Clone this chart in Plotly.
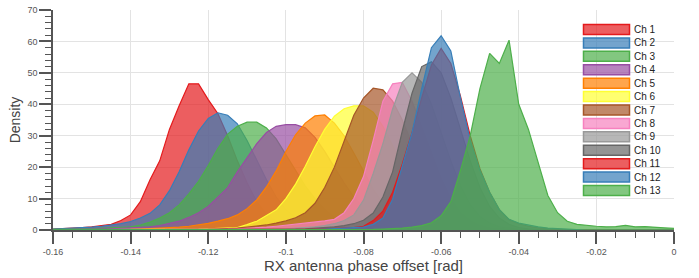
import plotly.graph_objects as go

# Bin centres (rad)
X_BINS = [-0.16, -0.1575, -0.155, -0.1525, -0.15, -0.1475, -0.145, -0.1425, -0.14, -0.1375,
          -0.135, -0.1325, -0.13, -0.1275, -0.125, -0.1225, -0.12, -0.1175, -0.115, -0.1125,
          -0.11, -0.1075, -0.105, -0.1025, -0.1, -0.0975, -0.095, -0.0925, -0.09, -0.0875,
          -0.085, -0.0825, -0.08, -0.0775, -0.075, -0.0725, -0.07, -0.0675, -0.065, -0.0625,
          -0.06, -0.0575, -0.055, -0.0525, -0.05, -0.0475, -0.045, -0.0425, -0.04, -0.0375,
          -0.035, -0.0325, -0.03, -0.0275, -0.025, -0.0225, -0.02, -0.0175, -0.015, -0.0125,
          -0.01, -0.0075, -0.005, -0.0025, 0.0]

CHANNELS = ["Ch 1", "Ch 2", "Ch 3", "Ch 4", "Ch 5", "Ch 6", "Ch 7",
            "Ch 8", "Ch 9", "Ch 10", "Ch 11", "Ch 12", "Ch 13"]

CH1 = [0.3, 0.4, 0.5, 0.8, 1.0, 1.3, 1.8, 3.0, 4.8, 9, 16, 22, 32, 39.5, 46.5, 46.5, 41.5, 37,
       30, 22, 15, 9, 5, 2.8, 1.4, 0.7, 0.35, 0.15, 0.05] + [0] * 36
CH2 = [0.3, 0.4, 0.5, 0.7, 0.9, 1.2, 1.5, 2.0, 2.7, 3.8, 5.3, 8, 12.5, 18.5, 25.5, 31.5, 35.5,
       37.3, 36.5, 33.8, 28.5, 22, 16, 10.5, 6.5, 3.8, 2, 1.1, 0.6, 0.3, 0.15, 0.05] + [0] * 33
CH3 = [0.2, 0.2, 0.3, 0.3, 0.4, 0.5, 0.6, 0.8, 1.0, 1.6, 2.5, 3.8, 5.5, 8, 11.5, 15.5, 20.5,
       26, 30.5, 33, 34.3, 34.3, 32.5, 29, 24, 19, 14, 10, 6.5, 4, 2.5, 1.5, 0.8, 0.4, 0.2,
       0.1] + [0] * 29
CH4 = [0.1, 0.1, 0.15, 0.2, 0.25, 0.3, 0.4, 0.5, 0.6, 0.8, 1.0, 1.4, 2.0, 2.8, 4.0, 5.5, 7.5,
       10.5, 13.5, 18.5, 23, 27.5, 31, 33, 33.5, 33.5, 32.5, 29.5, 25, 20, 15, 10.5, 7, 4.5,
       2.7, 1.5, 0.8, 0.4, 0.2, 0.1] + [0] * 25
CH5 = [0.05, 0.05, 0.05, 0.1, 0.1, 0.1, 0.15, 0.15, 0.2, 0.3, 0.4, 0.5, 0.7, 0.9, 1.2, 1.6,
       2.1, 2.8, 3.6, 4.8, 6.8, 9.6, 13.7, 18.8, 25, 30.3, 34, 36.3, 36.6, 34, 30, 24.5, 18.5,
       13, 8.5, 5, 2.8, 1.5, 0.8, 0.4, 0.2, 0.1] + [0] * 23
CH6 = [0.05, 0.05, 0.05, 0.05, 0.05, 0.1, 0.1, 0.1, 0.1, 0.1, 0.1, 0.1, 0.1, 0.15, 0.2, 0.25,
       0.35, 0.45, 0.6, 0.8, 1.7, 2.8, 4.6, 6.4, 10, 14.6, 20.3, 26.5, 32, 36.2, 38.6, 39.5,
       39.5, 37.5, 33, 27, 20.5, 14.5, 9.5, 6, 3.5, 2, 1, 0.5, 0.25, 0.1] + [0] * 19
CH7 = [0.05, 0.05, 0.05, 0.05, 0.05, 0.05, 0.05, 0.05, 0.05, 0.05, 0.05, 0.05, 0.05, 0.05,
       0.1, 0.15, 0.2, 0.3, 0.4, 0.6, 0.9, 1.2, 1.6, 2.2, 2.9, 3.9, 5.5, 8.5, 13.5, 20, 28,
       36.5, 42, 45.1, 44.6, 41, 35, 27.5, 20, 13.5, 8.5, 5, 2.8, 1.5, 0.8, 0.4, 0.2,
       0.1] + [0] * 17
CH8 = [0.05, 0.05, 0.05, 0.05, 0.05, 0.05, 0.05, 0.05, 0.05, 0.05, 0.05, 0.05, 0.1, 0.1, 0.1,
       0.1, 0.1, 0.2, 0.25, 0.35, 0.5, 0.7, 0.9, 1.2, 1.5, 1.8, 2.1, 2.5, 2.9, 3.4, 5.5, 10,
       17, 28.5, 41, 46.5, 47, 41, 33, 24.5, 16.5, 10, 5.5, 3, 1.5, 0.7, 0.3, 0.1] + [0] * 17
CH9 = [0.05, 0.05, 0.05, 0.05, 0.05, 0.05, 0.05, 0.05, 0.05, 0.05, 0.05, 0.05, 0.05, 0.05,
       0.05, 0.05, 0.05, 0.1, 0.1, 0.1, 0.1, 0.1, 0.2, 0.25, 0.35, 0.5, 0.7, 1.0, 1.4, 2.0, 3,
       4.8, 9.5, 18, 27.5, 38.5, 47, 50, 47, 40, 31, 22, 14, 8, 4.3, 2.2, 1, 0.5, 0.2,
       0.1] + [0] * 15
CH10 = [0.05, 0.05, 0.05, 0.05, 0.05, 0.05, 0.05, 0.05, 0.05, 0.05, 0.05, 0.05, 0.05, 0.05,
        0.05, 0.05, 0.05, 0.05, 0.05, 0.1, 0.1, 0.1, 0.1, 0.1, 0.2, 0.25, 0.35, 0.5, 0.7, 1.0,
        1.4, 2.0, 3.1, 5.4, 10.5, 18.5, 31.5, 43.5, 52, 53.5, 50, 42, 32, 22, 13.5, 7.5, 3.8,
        1.8, 0.8, 0.35, 0.15] + [0] * 14
CH11 = [0.05, 0.05, 0.05, 0.05, 0.05, 0.05, 0.05, 0.05, 0.05, 0.05, 0.05, 0.05, 0.05, 0.05,
        0.05, 0.05, 0.05, 0.1, 0.1, 0.1, 0.1, 0.1, 0.15, 0.15, 0.2, 0.2, 0.2, 0.25, 0.35, 0.45,
        0.6, 0.8, 1.2, 3, 6, 12, 21, 31, 42, 52.5, 57.8, 53, 42.5, 30, 19.5, 12, 6.5, 3.3, 2,
        1.2, 0.7, 0.4, 0.2, 0.1] + [0] * 11
CH12 = [0.05, 0.05, 0.05, 0.05, 0.05, 0.05, 0.05, 0.05, 0.05, 0.05, 0.05, 0.05, 0.05, 0.05,
        0.05, 0.05, 0.05, 0.1, 0.1, 0.1, 0.1, 0.1, 0.15, 0.15, 0.15, 0.2, 0.2, 0.2, 0.3, 0.4,
        0.5, 0.7, 0.9, 1.8, 3.8, 9.8, 20.3, 31, 45, 58, 61.8, 57, 42, 28.5, 19, 12, 6.5, 3.4,
        2.2, 1.5, 1.0, 0.6, 0.4, 0.2, 0.1] + [0] * 10
CH13 = [0.05, 0.05, 0.05, 0.05, 0.05, 0.05, 0.05, 0.05, 0.05, 0.05, 0.05, 0.05, 0.05, 0.05,
        0.05, 0.05, 0.05, 0.05, 0.05, 0.05, 0.05, 0.05, 0.05, 0.05, 0.1, 0.1, 0.1, 0.1, 0.1,
        0.1, 0.1, 0.1, 0.1, 0.2, 0.3, 0.4, 0.6, 0.9, 1.4, 2.3, 4.5, 9, 19, 30, 45, 56.2, 53,
        60.4, 40, 32, 21.5, 11, 5.5, 2.8, 1.8, 1.4, 1.2, 1.0, 1.1, 1.5, 1.0, 1.1, 0.8, 0.7, 0.5]

SERIES = [CH1, CH2, CH3, CH4, CH5, CH6, CH7, CH8, CH9, CH10, CH11, CH12, CH13]

COLORS = ["#e41a1c", "#377eb8", "#4daf4a", "#984ea3", "#ff7f00", "#ffff33", "#a65628",
          "#f781bf", "#999999", "#666666", "#e41a1c", "#377eb8", "#4daf4a"]

X_TICKS = [-0.16, -0.14, -0.12, -0.10, -0.08, -0.06, -0.04, -0.02, 0.0]
X_TICK_TEXT = ["-0.16", "-0.14", "-0.12", "-0.1", "-0.08", "-0.06", "-0.04", "-0.02", "0"]
Y_TICKS = [0, 10, 20, 30, 40, 50, 60, 70]

FILL_ALPHA = 0.7


def rgba(hex_color, a):
    h = hex_color.lstrip("#")
    r, g, b = int(h[0:2], 16), int(h[2:4], 16), int(h[4:6], 16)
    return f"rgba({r},{g},{b},{a})"


fig = go.Figure()
for name, ys, col in zip(CHANNELS, SERIES, COLORS):
    fig.add_trace(go.Scatter(
        x=X_BINS, y=ys, name=name, mode="lines", fill="tozeroy",
        line=dict(color=col, width=1.2), fillcolor=rgba(col, FILL_ALPHA),
        showlegend=False, hoverinfo="skip",
    ))

W, H = 699, 278
ML, MR, MT, MB = 53, 25, 10, 48
PW, PH = W - ML - MR, H - MT - MB


def px_to_paper_x(px):
    return (px - ML) / PW


def px_to_paper_y(py):
    return (H - MB - py) / PH


# compact custom legend
shapes, annotations = [], []
for i, (name, col) in enumerate(zip(CHANNELS, COLORS)):
    yc = 29.5 + 13.42 * i
    shapes.append(dict(
        type="rect", xref="paper", yref="paper",
        x0=px_to_paper_x(583.5), x1=px_to_paper_x(629.5),
        y0=px_to_paper_y(yc + 5), y1=px_to_paper_y(yc - 5),
        fillcolor=rgba(col, FILL_ALPHA), line=dict(color=col, width=1.5),
    ))
    annotations.append(dict(
        text=name, xref="paper", yref="paper", x=px_to_paper_x(632), y=px_to_paper_y(yc),
        xanchor="left", yanchor="middle", showarrow=False,
        font=dict(size=10, color="#222222"),
    ))

AX_COLOR = "#555555"
fig.update_layout(
    width=W, height=H,
    margin=dict(l=ML, r=MR, t=MT, b=MB, autoexpand=False),
    paper_bgcolor="white", plot_bgcolor="white",
    font=dict(family="Liberation Sans, Arial, sans-serif", color="#444444"),
    showlegend=False,
    shapes=shapes, annotations=annotations,
    xaxis=dict(
        range=[-0.16, 0.0], tickmode="array", tickvals=X_TICKS, ticktext=X_TICK_TEXT,
        automargin=False,
        ticks="outside", ticklen=12, tickwidth=1.5, tickcolor=AX_COLOR,
        tickfont=dict(size=9, color="#555555"),
        showline=True, linecolor=AX_COLOR, linewidth=1.5,
        showgrid=True, gridcolor="#e3e3e3", gridwidth=1, zeroline=False,
        minor=dict(tickmode="linear", tick0=-0.16, dtick=0.005, ticks="outside",
                   ticklen=6, tickwidth=1.2, tickcolor=AX_COLOR, showgrid=False),
        title=dict(text="RX antenna phase offset [rad]", font=dict(size=15, color="#444444"),
                   standoff=4),
    ),
    yaxis=dict(
        range=[0, 70], tickmode="array", tickvals=Y_TICKS,
        automargin=False,
        ticks="outside", ticklen=12, tickwidth=1.5, tickcolor=AX_COLOR,
        tickfont=dict(size=9, color="#555555"),
        showline=True, linecolor=AX_COLOR, linewidth=1.5,
        showgrid=True, gridcolor="#e3e3e3", gridwidth=1, zeroline=False,
        minor=dict(tickmode="linear", tick0=0, dtick=2, ticks="outside",
                   ticklen=6, tickwidth=1.2, tickcolor=AX_COLOR, showgrid=False),
        title=dict(text="Density", font=dict(size=14, color="#444444"), standoff=4),
    ),
)

# remove the browser's default 8px body margin so the figure sits at the page origin
fig.write_html(
    "out.html",
    config={"displayModeBar": False},
    post_script="document.body.style.margin='0';document.body.style.overflow='hidden';",
)
